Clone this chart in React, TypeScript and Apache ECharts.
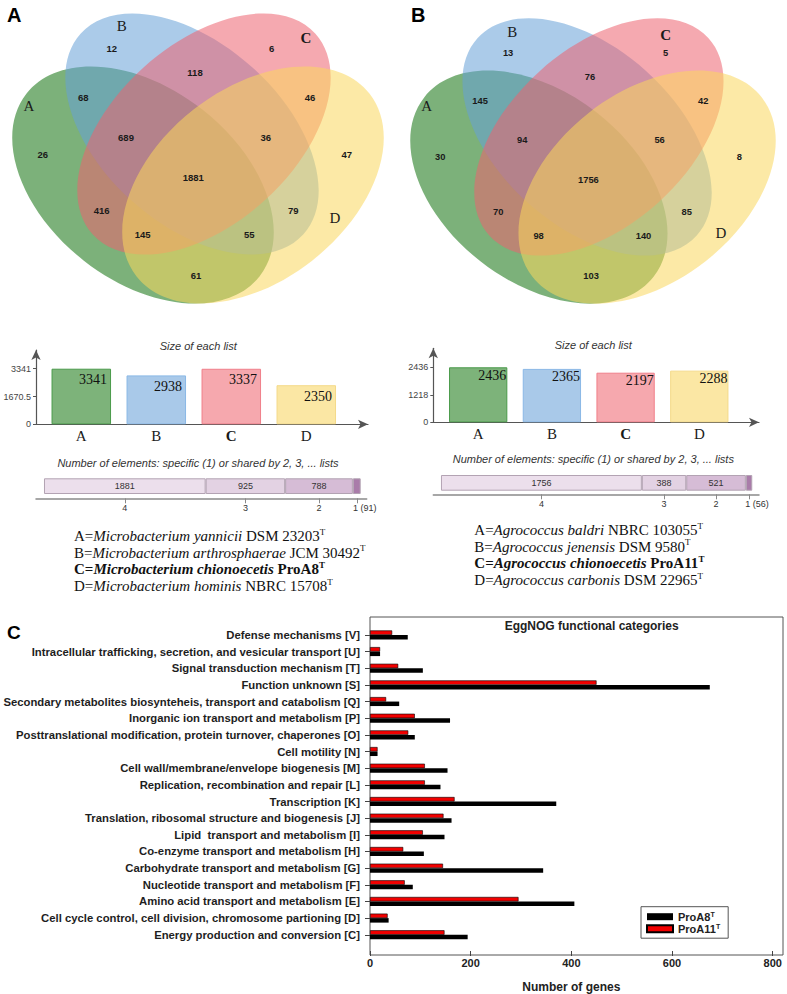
import React, { useEffect, useRef } from 'react';
import * as echarts from 'echarts';

// ---------- data ----------
const vennRegions = ['A', 'B', 'C', 'D', 'AB', 'AC', 'AD', 'BC', 'BD', 'CD', 'ABC', 'ABD', 'ACD', 'BCD', 'ABCD'];
const vennCountsMicro = [26, 12, 6, 47, 68, 416, 61, 118, 79, 46, 689, 55, 145, 36, 1881];
const vennCountsAgro = [30, 13, 5, 8, 145, 70, 103, 76, 85, 42, 94, 140, 98, 56, 1756];

const listNames = ['A', 'B', 'C', 'D'];
const listSizesMicro = [3341, 2938, 3337, 2350];
const listSizesAgro = [2436, 2365, 2197, 2288];
const sizeTicksMicro = [0, 1670.5, 3341];
const sizeTicksAgro = [0, 1218, 2436];

const sharedLevels = ['4', '3', '2', '1'];
const sharedMicro = [1881, 925, 788, 91];
const sharedAgro = [1756, 388, 521, 56];

const speciesMicro = [
  ['A=', 'Microbacterium yannicii', ' DSM 23203'],
  ['B=', 'Microbacterium arthrosphaerae', ' JCM 30492'],
  ['C=', 'Microbacterium chionoecetis', ' ProA8'],
  ['D=', 'Microbacterium hominis', ' NBRC 15708'],
];
const speciesAgro = [
  ['A=', 'Agrococcus baldri', ' NBRC 103055'],
  ['B=', 'Agrococcus jenensis', ' DSM 9580'],
  ['C=', 'Agrococcus chionoecetis', ' ProA11'],
  ['D=', 'Agrococcus carbonis', ' DSM 22965'],
];

const eggCategories = [
  'Defense mechanisms [V]',
  'Intracellular trafficking, secretion, and vesicular transport [U]',
  'Signal transduction mechanism [T]',
  'Function unknown [S]',
  'Secondary metabolites biosynteheis, transport and catabolism [Q]',
  'Inorganic ion transport and metabolism [P]',
  'Posttranslational modification, protein turnover, chaperones [O]',
  'Cell motility [N]',
  'Cell wall/membrane/envelope biogenesis [M]',
  'Replication, recombination and repair [L]',
  'Transcription [K]',
  'Translation, ribosomal structure and biogenesis [J]',
  'Lipid  transport and metabolism [I]',
  'Co-enzyme transport and metabolism [H]',
  'Carbohydrate transport and metabolism [G]',
  'Nucleotide transport and metabolism [F]',
  'Amino acid transport and metabolism [E]',
  'Cell cycle control, cell division, chromosome partioning [D]',
  'Energy production and conversion [C]',
];
const eggProA8 = [75, 20, 105, 675, 58, 159, 89, 15, 154, 140, 370, 162, 148, 107, 344, 85, 406, 37, 194];
const eggProA11 = [44, 20, 56, 450, 32, 89, 76, 15, 109, 109, 168, 146, 105, 66, 145, 69, 295, 35, 148];

// ---------- styling / layout ----------
const SANS = '"Liberation Sans", Arial, sans-serif';
const SERIF = '"Liberation Serif", "Times New Roman", serif';

// four tilted ellipses, positioned relative to the diagram centre
const vennEllipses = [
  { cx: -55, cy: 25, rx: 148, ry: 96, deg: 38, fill: 'rgba(17,113,13,0.55)' },
  { cx: -6, cy: -26, rx: 150, ry: 90, deg: 42, fill: 'rgba(102,160,215,0.55)' },
  { cx: 6, cy: -26, rx: 150, ry: 90, deg: -42, fill: 'rgba(237,99,111,0.55)' },
  { cx: 55, cy: 25, rx: 148, ry: 96, deg: -38, fill: 'rgba(250,215,93,0.55)' },
];
// count label positions, one per entry of vennRegions
const vennLabelPos: [number, number][] = [
  [-155.3, -6], [-86.3, -111.7], [73.7, -111.7], [148.7, -6],
  [-114.7, -62.3], [-96.3, 50.7], [-2, 115.7], [-3, -87.3], [95.3, 50.7], [112, -62.3],
  [-72, -22.7], [51.3, 74.7], [-55.3, 74.7], [67.7, -22.7], [-4.7, 17.7],
];

const sizeFill = ['#7db37a', '#a9c9e9', '#f6a8ae', '#fbe7a4'];
const sizeBorder = ['#4a9a4a', '#8ab8e6', '#f07f8a', '#f4da8a'];
const sharedFill = ['#ecdfec', '#e3d2e3', '#d6bcd6', '#a97ca9'];

function textEl(x: number, y: number, text: string, font: string, align = 'center', fill = '#222') {
  return {
    type: 'text',
    x,
    y,
    silent: true,
    style: { text, font, fill, align, verticalAlign: 'middle', textAlign: align, textVerticalAlign: 'middle' },
  };
}

function vennGroup(x: number, y: number, scale: number, counts: number[]) {
  return {
    type: 'group',
    x,
    y,
    scaleX: scale,
    scaleY: scale,
    children: [
      ...vennEllipses.map((e) => ({
        type: 'ellipse',
        x: e.cx,
        y: e.cy,
        rotation: (-e.deg * Math.PI) / 180,
        silent: true,
        shape: { cx: 0, cy: 0, rx: e.rx, ry: e.ry },
        style: { fill: e.fill, stroke: 'none' },
      })),
      ...counts.map((c, i) =>
        textEl(vennLabelPos[i][0], vennLabelPos[i][1], String(c), `bold 9.5px ${SANS}`, 'center', '#1a1a1a')
      ),
    ],
  };
}

function setLabels(pos: [number, number][]) {
  return listNames.map((n, i) =>
    textEl(pos[i][0], pos[i][1], n, `${n === 'C' ? 'bold ' : ''}15px ${SERIF}`, 'center', '#1a1a1a')
  );
}

function speciesLines(x: number, y0: number, lines: string[][]) {
  return lines.map((l, i) => {
    const bold = l[0] === 'C=';
    const w = bold ? 'bold' : 'normal';
    return {
      type: 'text',
      x,
      y: y0 + i * 16.7,
      silent: true,
      style: {
        text: `{n|${l[0]}}{i|${l[1]}}{n|${l[2]}}{s|T}`,
        fill: '#111',
        align: 'left',
        verticalAlign: 'middle',
        textAlign: 'left',
        textVerticalAlign: 'middle',
        rich: {
          n: { fontFamily: SERIF, fontSize: 15, fontWeight: w, fill: '#111', lineHeight: 18 },
          i: { fontFamily: SERIF, fontSize: 15, fontWeight: w, fontStyle: 'italic', fill: '#111', lineHeight: 18 },
          s: { fontFamily: SERIF, fontSize: 9, fontWeight: w, fill: '#111', verticalAlign: 'top', lineHeight: 10 },
        },
      },
    };
  });
}

function centers(vals: number[]) {
  let acc = 0;
  return vals.map((v) => {
    const c = acc + v / 2;
    acc += v;
    return c;
  });
}

function sizeAxes(grid: number, xMin: number, xMax: number, yMax: number, ticks: number[]) {
  const axisLine = {
    show: true,
    onZero: false,
    symbol: ['none', 'arrow'],
    symbolSize: [7, 10],
    lineStyle: { color: '#555', width: 1.2 },
  };
  return {
    x: {
      type: 'value',
      gridIndex: grid,
      min: xMin,
      max: xMax,
      axisLine,
      axisTick: { show: false },
      splitLine: { show: false },
      axisLabel: {
        customValues: [0, 1, 2, 3],
        margin: 4,
        formatter: (v: number) => {
          const n = listNames[Math.round(v)] ?? '';
          return n === 'C' ? `{b|${n}}` : `{n|${n}}`;
        },
        rich: {
          n: { fontFamily: SERIF, fontSize: 15, color: '#1a1a1a' },
          b: { fontFamily: SERIF, fontSize: 15, fontWeight: 'bold', color: '#1a1a1a' },
        },
      },
    },
    y: {
      type: 'value',
      gridIndex: grid,
      min: 0,
      max: yMax,
      axisLine,
      axisTick: { show: true, customValues: ticks, length: 3, lineStyle: { color: '#555' } },
      splitLine: { show: false },
      axisLabel: {
        customValues: ticks,
        formatter: (v: number) => String(v),
        fontFamily: SANS,
        fontSize: 9,
        color: '#444',
        margin: 5,
      },
    },
  };
}

function sizeSeries(grid: number, sizes: number[], barWidth: number, dist: number) {
  return {
    type: 'bar',
    xAxisIndex: grid,
    yAxisIndex: grid,
    barWidth,
    data: sizes.map((v, i) => ({
      value: [i, v],
      itemStyle: { color: sizeFill[i], borderColor: sizeBorder[i], borderWidth: 1 },
    })),
    label: {
      show: true,
      position: 'insideTopRight',
      distance: dist,
      formatter: (p: any) => String(p.value[1]),
      fontFamily: SERIF,
      fontSize: 14,
      color: '#111',
    },
  };
}

function sharedAxes(grid: number, xMin: number, xMax: number, offset: number, vals: number[]) {
  const cs = centers(vals);
  const last = vals.length - 1;
  return {
    x: {
      type: 'value',
      gridIndex: grid,
      min: xMin,
      max: xMax,
      offset,
      axisLine: { show: true, onZero: false, lineStyle: { color: '#8a8a8a', width: 1.5 } },
      axisTick: { show: true, customValues: cs, length: 5, lineStyle: { color: '#8a8a8a' } },
      splitLine: { show: false },
      axisLabel: {
        customValues: cs,
        margin: 5,
        fontFamily: SANS,
        fontSize: 9,
        color: '#333',
        formatter: (v: number) => {
          const i = cs.findIndex((c) => Math.abs(c - v) < 1e-6);
          if (i < 0) return '';
          return i === last ? `{p|${sharedLevels[i]} (${vals[i]})}` : sharedLevels[i];
        },
        rich: { p: { fontFamily: SANS, fontSize: 9, color: '#333', padding: [0, 0, 0, 16] } },
      },
    },
    y: { type: 'category', gridIndex: grid, data: ['n'], show: false },
  };
}

function sharedSeries(grid: number, vals: number[], stack: string) {
  return vals.map((v, i) => ({
    type: 'bar',
    name: `${stack}-${sharedLevels[i]}`,
    stack,
    xAxisIndex: grid,
    yAxisIndex: grid,
    barWidth: 15.7,
    data: [v],
    itemStyle: { color: sharedFill[i], borderColor: '#b3a3b3', borderWidth: 1 },
    label: {
      show: i < vals.length - 1,
      position: 'inside',
      fontFamily: SANS,
      fontSize: 9,
      color: '#333',
    },
  }));
}

function buildOption() {
  const sa = sizeAxes(0, -0.604, 3.823, 4465, sizeTicksMicro);
  const sb = sizeAxes(1, -0.609, 3.81, 3277, sizeTicksAgro);
  const ha = sharedAxes(2, -93, 3755, 4.3, sharedMicro);
  const hb = sharedAxes(3, -67, 2780, 3.6, sharedAgro);

  const eggX = {
    type: 'value',
    gridIndex: 4,
    min: 0,
    max: 800,
    interval: 200,
    offset: 7.9,
    axisLine: { show: false, onZero: false },
    axisTick: { show: true, length: 5, lineStyle: { color: '#444' } },
    splitLine: { show: false },
    axisLabel: { fontFamily: SANS, fontSize: 11, fontWeight: 'bold', color: '#222', margin: 6 },
    name: 'Number of genes',
    nameLocation: 'middle',
    nameGap: 30,
    nameTextStyle: { fontFamily: SANS, fontSize: 12, fontWeight: 'bold', color: '#222' },
  };
  const eggY = {
    type: 'category',
    gridIndex: 4,
    inverse: true,
    data: eggCategories,
    axisLine: { show: false, onZero: false },
    axisTick: { show: true, alignWithLabel: true, length: 5, lineStyle: { color: '#444' } },
    axisLabel: { fontFamily: SANS, fontSize: 11.3, fontWeight: 'bold', color: '#1e1e1e', margin: 10, interval: 0 },
  };

  const graphic: any[] = [
    vennGroup(198, 160, 1, vennCountsMicro),
    vennGroup(593, 162.5, 0.984, vennCountsAgro),
    ...setLabels([[29, 106], [121.7, 26], [306, 38.3], [335, 218.3]]),
    ...setLabels([[426.7, 106], [512.3, 31.7], [665.7, 35], [721, 233.3]]),
    textEl(7, 15, 'A', `bold 20px ${SANS}`, 'left', '#000'),
    textEl(411, 15, 'B', `bold 20px ${SANS}`, 'left', '#000'),
    textEl(7, 632, 'C', `bold 19px ${SANS}`, 'left', '#000'),
    textEl(198.3, 346, 'Size of each list', `italic 11px ${SANS}`, 'center', '#333'),
    textEl(593.3, 345, 'Size of each list', `italic 11px ${SANS}`, 'center', '#333'),
    textEl(198, 462.7, 'Number of elements: specific (1) or shared by 2, 3, ... lists', `italic 11px ${SANS}`, 'center', '#333'),
    textEl(593.3, 459.3, 'Number of elements: specific (1) or shared by 2, 3, ... lists', `italic 11px ${SANS}`, 'center', '#333'),
    ...speciesLines(74, 536, speciesMicro),
    ...speciesLines(474.3, 530, speciesAgro),
    {
      type: 'rect',
      silent: true,
      shape: { x: 370, y: 617, width: 413, height: 338 },
      style: { fill: 'none', stroke: '#555', lineWidth: 1 },
    },
    textEl(591.7, 626, 'EggNOG functional categories', `bold 12px ${SANS}`, 'center', '#222'),
  ];

  return {
    animation: false,
    backgroundColor: '#fff',
    grid: [
      { left: 36, top: 350, width: 332, height: 74.3 },
      { left: 433.3, top: 348.3, width: 325.7, height: 74 },
      { left: 36, top: 478.3, width: 330.7, height: 15.7 },
      { left: 433.3, top: 475, width: 325.7, height: 15.7 },
      { left: 370, top: 626.6, width: 402.7, height: 320.5 },
    ],
    xAxis: [sa.x, sb.x, ha.x, hb.x, eggX],
    yAxis: [sa.y, sb.y, ha.y, hb.y, eggY],
    legend: {
      data: ['ProA8', 'ProA11'],
      orient: 'vertical',
      left: 641,
      top: 906.7,
      selectedMode: false,
      backgroundColor: '#fff',
      borderColor: '#555',
      borderWidth: 1,
      borderRadius: 0,
      padding: [4.5, 8, 4, 5],
      itemWidth: 26,
      itemHeight: 7,
      itemGap: 1,
      icon: 'rect',
      formatter: (name: string) => `{a|${name}}{s|T}`,
      textStyle: {
        rich: {
          a: { fontFamily: SANS, fontSize: 11, fontWeight: 'bold', color: '#222', lineHeight: 11 },
          s: { fontFamily: SANS, fontSize: 7, fontWeight: 'bold', color: '#222', verticalAlign: 'top', lineHeight: 8 },
        },
      },
    },
    series: [
      sizeSeries(0, listSizesMicro, 59.5, 4),
      sizeSeries(1, listSizesAgro, 58.3, 1),
      ...sharedSeries(2, sharedMicro, 'micro'),
      ...sharedSeries(3, sharedAgro, 'agro'),
      {
        type: 'bar',
        name: 'ProA11',
        xAxisIndex: 4,
        yAxisIndex: 4,
        barWidth: 4.5,
        barGap: '0%',
        data: eggProA11,
        itemStyle: { color: '#f20000', borderColor: '#000', borderWidth: 0.6 },
      },
      {
        type: 'bar',
        name: 'ProA8',
        xAxisIndex: 4,
        yAxisIndex: 4,
        barWidth: 4.5,
        barGap: '0%',
        data: eggProA8,
        itemStyle: { color: '#000' },
      },
    ],
    graphic,
  };
}

export default function App() {
  const ref = useRef<HTMLDivElement>(null);
  useEffect(() => {
    document.body.style.margin = '0';
    if (!ref.current) return;
    const chart = echarts.init(ref.current, undefined, { renderer: 'svg' });
    chart.setOption(buildOption() as any);
    return () => chart.dispose();
  }, []);
  return <div ref={ref} style={{ width: 787, height: 994 }} />;
}
